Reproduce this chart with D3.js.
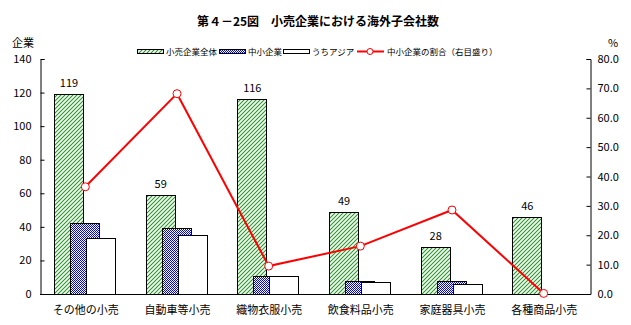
<!DOCTYPE html>
<html><head><meta charset="utf-8">
<script src="https://cdn.jsdelivr.net/npm/d3@7/dist/d3.min.js"></script>
<style>
body{margin:0;background:#fff;}
text{font-family:"Noto Sans CJK JP","DejaVu Sans",sans-serif;}
</style></head>
<body><svg id="c" width="631" height="325"></svg>
<script>
const categories = ["その他の小売","自動車等小売","織物衣服小売","飲食料品小売","家庭器具小売","各種商品小売"];
const totalAll = [119, 59, 116, 49, 28, 46];
const smeCount = [42.5, 39.5, 11, 8, 8, 0];
const asiaCount = [33.6, 35, 11, 7, 6, 0];
const smeShare = [36.5, 68.2, 9.5, 16.3, 28.6, 0.2];
const leftTicks = [0,20,40,60,80,100,120,140];
const rightTicks = [0,10,20,30,40,50,60,70,80];

const svg = d3.select("#c");
const L=40, R=590, T=59, B=294;
const defs = svg.append("defs");
const pg = defs.append("pattern").attr("id","hatch").attr("patternUnits","userSpaceOnUse").attr("width",4).attr("height",4);
pg.append("rect").attr("width",4).attr("height",4).attr("fill","#ffffff");
pg.append("path").attr("d","M-1,1 L1,-1 M0,4 L4,0 M3,5 L5,3").attr("fill","none").attr("stroke","#1f9a1f").attr("stroke-width",1.1);
const pb = defs.append("pattern").attr("id","check").attr("patternUnits","userSpaceOnUse").attr("width",2).attr("height",2);
pb.append("rect").attr("width",2).attr("height",2).attr("fill","#ffffff");
pb.append("rect").attr("width",1).attr("height",1).attr("fill","#0000ff");
pb.append("rect").attr("x",1).attr("y",1).attr("width",1).attr("height",1).attr("fill","#0000ff");

const x = d3.scaleBand().domain(categories).range([L,R]);
const yL = d3.scaleLinear().domain([0,140]).range([B,T]);
const yR = d3.scaleLinear().domain([0,80]).range([B,T]);
const bw = 29, off = 16;

svg.append("text").attr("x",318).attr("y",26).attr("text-anchor","middle")
  .attr("font-size",12).attr("font-weight","bold").text("第４－25図　小売企業における海外子会社数");

const series = [
  {vals: totalAll, fill:"url(#hatch)", k:0},
  {vals: smeCount, fill:"url(#check)", k:1},
  {vals: asiaCount, fill:"#fff", k:2}
];
series.forEach(s=>{
  svg.append("g").selectAll("rect").data(s.vals.map((v,i)=>({v,c:categories[i]})).filter(d=>d.v>0))
    .join("rect")
    .attr("x",d=>Math.round(x(d.c)+14+s.k*off)+0.5)
    .attr("y",d=>Math.round(yL(d.v))+0.5)
    .attr("width",bw)
    .attr("height",d=>B-Math.round(yL(d.v)))
    .attr("fill",s.fill).attr("stroke","#000").attr("stroke-width",1);
});
svg.append("g").selectAll("text").data(totalAll.map((v,i)=>({v,c:categories[i]})))
  .join("text").attr("x",d=>x(d.c)+14+bw/2+0.5).attr("y",d=>yL(d.v)-7)
  .attr("text-anchor","middle").attr("font-size",11).attr("font-family","DejaVu Sans Mono, monospace").text(d=>d.v);

// axes
const gl = svg.append("g").attr("transform",`translate(${L+0.5},0)`)
  .call(d3.axisRight(yL).tickValues(leftTicks).tickSize(4).tickFormat(d3.format("d")));
gl.selectAll("text").attr("x",-9).attr("text-anchor","end");
const gr = svg.append("g").attr("transform",`translate(${R+0.5},0)`)
  .call(d3.axisLeft(yR).tickValues(rightTicks).tickSize(4).tickFormat(d3.format(".1f")));
gr.selectAll("text").attr("x",7).attr("text-anchor","start");
[gl,gr].forEach(g=>{
  g.select(".domain").attr("stroke","#000");
  g.selectAll("line").attr("stroke","#000");
  g.selectAll("text").attr("font-size",11).attr("font-family","DejaVu Sans Mono, monospace").attr("fill","#000");
});
svg.append("line").attr("x1",L).attr("x2",R+1).attr("y1",B+0.5).attr("y2",B+0.5).attr("stroke","#000");
svg.append("g").selectAll("text").data(categories).join("text")
  .attr("x",d=>x(d)+x.bandwidth()/2).attr("y",314).attr("text-anchor","middle").attr("font-size",11).text(d=>d);

svg.append("text").attr("x",12).attr("y",47).attr("font-size",11).text("企業");
svg.append("text").attr("x",608).attr("y",47).attr("font-size",11).text("%");

// line
const lx = (i)=> x(categories[i]) + x.bandwidth()/2 - 0.5;
svg.append("path").datum(smeShare).attr("fill","none").attr("stroke","#ff0000").attr("stroke-width",2)
  .attr("d",d3.line().x((d,i)=>lx(i)).y(d=>yR(d)));
svg.append("g").selectAll("circle").data(smeShare).join("circle")
  .attr("cx",(d,i)=>lx(i)).attr("cy",d=>yR(d)).attr("r",4)
  .attr("fill","#fff").attr("stroke","#ff0000").attr("stroke-width",1);

// legend
const lg = svg.append("g").attr("font-size",8.5);
const leg = [
  {t:"小売企業全体", x:137, f:"url(#hatch)"},
  {t:"中小企業", x:219, f:"url(#check)"},
  {t:"うちアジア", x:283, f:"#fff"}
];
leg.forEach(d=>{
  lg.append("rect").attr("x",d.x+0.5).attr("y",49.5).attr("width",26).attr("height",4).attr("fill",d.f).attr("stroke","#000");
  lg.append("text").attr("x",d.x+29).attr("y",55).text(d.t);
});
lg.append("line").attr("x1",357).attr("x2",384).attr("y1",51.5).attr("y2",51.5).attr("stroke","#ff0000").attr("stroke-width",2);
lg.append("circle").attr("cx",370).attr("cy",51.5).attr("r",3).attr("fill","#fff").attr("stroke","#ff0000");
lg.append("text").attr("x",387).attr("y",55).text("中小企業の割合（右目盛り）");
</script></body></html>
